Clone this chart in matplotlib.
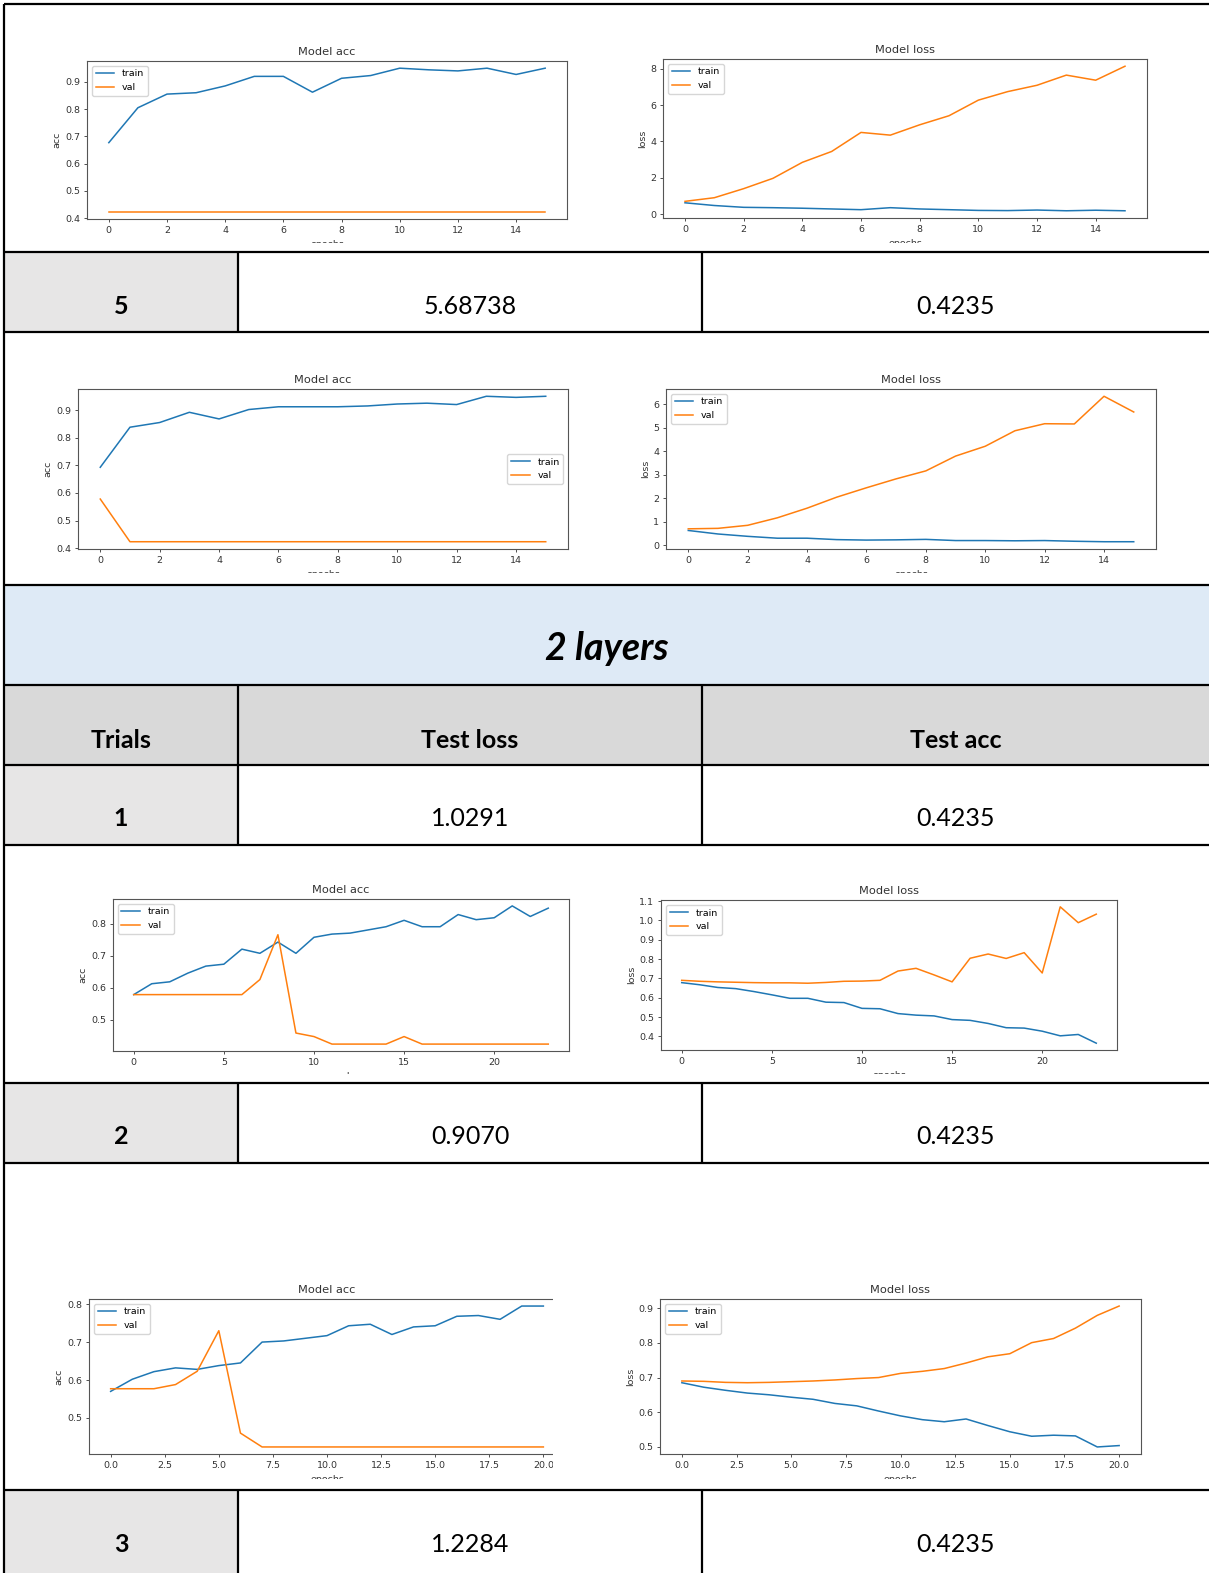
import matplotlib
matplotlib.use('Agg')
import matplotlib.pyplot as plt
from matplotlib.ticker import MultipleLocator
from matplotlib.patches import Rectangle

# 1 layer, trial 4 (top charts)
l1t4_acc_train = [0.677, 0.805, 0.855, 0.860, 0.885, 0.920, 0.920, 0.862, 0.913, 0.923, 0.950, 0.944, 0.940, 0.950, 0.927, 0.950]
l1t4_acc_val = [0.4235] * 16
l1t4_loss_train = [0.62, 0.47, 0.37, 0.35, 0.32, 0.28, 0.24, 0.35, 0.28, 0.24, 0.20, 0.19, 0.22, 0.18, 0.21, 0.18]
l1t4_loss_val = [0.70, 0.90, 1.40, 1.97, 2.85, 3.45, 4.50, 4.35, 4.92, 5.42, 6.28, 6.75, 7.10, 7.66, 7.38, 8.15]

# 1 layer, trial 5
l1t5_acc_train = [0.693, 0.838, 0.855, 0.892, 0.868, 0.902, 0.912, 0.912, 0.912, 0.915, 0.922, 0.925, 0.920, 0.950, 0.946, 0.950]
l1t5_acc_val = [0.578] + [0.4235] * 15
l1t5_loss_train = [0.63, 0.48, 0.38, 0.30, 0.30, 0.24, 0.22, 0.23, 0.25, 0.20, 0.20, 0.19, 0.20, 0.17, 0.15, 0.15]
l1t5_loss_val = [0.70, 0.72, 0.85, 1.17, 1.58, 2.05, 2.45, 2.83, 3.17, 3.80, 4.22, 4.88, 5.18, 5.17, 6.35, 5.68]

# 2 layers, trial 1
l2t1_acc_train = [0.578, 0.612, 0.618, 0.645, 0.667, 0.673, 0.720, 0.707, 0.742, 0.707, 0.757, 0.767,
                  0.770, 0.780, 0.790, 0.810, 0.790, 0.790, 0.828, 0.812, 0.818, 0.855, 0.822, 0.848]
l2t1_acc_val = [0.578, 0.578, 0.578, 0.578, 0.578, 0.578, 0.578, 0.625, 0.765, 0.458, 0.447, 0.4235,
                0.4235, 0.4235, 0.4235, 0.447, 0.4235, 0.4235, 0.4235, 0.4235, 0.4235, 0.4235, 0.4235, 0.4235]
l2t1_loss_train = [0.678, 0.667, 0.653, 0.647, 0.632, 0.615, 0.597, 0.597, 0.577, 0.575, 0.545, 0.543,
                   0.518, 0.510, 0.506, 0.487, 0.483, 0.467, 0.445, 0.443, 0.427, 0.403, 0.410, 0.365]
l2t1_loss_val = [0.690, 0.685, 0.682, 0.680, 0.678, 0.677, 0.677, 0.675, 0.679, 0.685, 0.686, 0.690,
                 0.738, 0.752, 0.718, 0.682, 0.804, 0.826, 0.803, 0.833, 0.728, 1.070, 0.988, 1.032]

# 2 layers, trial 2
l2t2_acc_train = [0.570, 0.602, 0.622, 0.632, 0.628, 0.638, 0.645, 0.700, 0.703, 0.710, 0.717,
                  0.743, 0.747, 0.720, 0.740, 0.743, 0.768, 0.770, 0.760, 0.795, 0.795]
l2t2_acc_val = [0.577, 0.577, 0.577, 0.588, 0.623, 0.730, 0.460] + [0.4235] * 14
l2t2_loss_train = [0.685, 0.672, 0.663, 0.655, 0.650, 0.643, 0.637, 0.625, 0.618, 0.603, 0.589,
                   0.578, 0.572, 0.580, 0.561, 0.543, 0.530, 0.533, 0.531, 0.499, 0.503]
l2t2_loss_val = [0.690, 0.689, 0.686, 0.685, 0.686, 0.688, 0.690, 0.693, 0.697, 0.700, 0.712,
                 0.718, 0.726, 0.742, 0.760, 0.769, 0.801, 0.813, 0.843, 0.880, 0.907]

# table text
trials = ['5', '1', '2', '3']
test_loss = ['5.68738', '1.0291', '0.9070', '1.2284']
test_acc = ['0.4235', '0.4235', '0.4235', '0.4235']
headers = ['Trials', 'Test loss', 'Test acc']
section_title = '2 layers'

W, H = 1209, 1573
fig = plt.figure(figsize=(W / 100, H / 100), dpi=100)
fig.patch.set_facecolor('white')


def frac(x0, y0, x1, y1):
    return [x0 / W, 1 - y1 / H, (x1 - x0) / W, (y1 - y0) / H]


def small_chart(box, train, val, title, ylabel, xstep, ystep, loc='upper left'):
    ax = fig.add_axes(frac(*box), zorder=2)
    ep = list(range(len(train)))
    ax.plot(ep, train, color='#1f77b4', lw=1.1, label='train')
    ax.plot(ep, val, color='#ff7f0e', lw=1.1, label='val')
    ax.set_title(title, fontsize=8.2, pad=4, color='#333333')
    ax.set_ylabel(ylabel, fontsize=6.8, labelpad=2.5, color='#333333')
    ax.set_xlabel('epochs', fontsize=6.8, labelpad=4, color='#333333')
    ax.xaxis.set_major_locator(MultipleLocator(xstep))
    ax.yaxis.set_major_locator(MultipleLocator(ystep))
    ax.tick_params(labelsize=6.8, length=2.4, width=0.6, pad=2.4, colors='#333333')
    for s in ax.spines.values():
        s.set_linewidth(0.8)
        s.set_color('#555555')
    ax.legend(loc=loc, fontsize=6.8)
    return ax


small_chart((87, 61, 567, 219), l1t4_acc_train, l1t4_acc_val, 'Model acc', 'acc', 2, 0.1)
small_chart((663, 59, 1147, 218), l1t4_loss_train, l1t4_loss_val, 'Model loss', 'loss', 2, 2)
small_chart((78, 389, 568, 549), l1t5_acc_train, l1t5_acc_val, 'Model acc', 'acc', 2, 0.1, loc='center right')
small_chart((666, 389, 1156, 549), l1t5_loss_train, l1t5_loss_val, 'Model loss', 'loss', 2, 1)
small_chart((113, 899, 569, 1051), l2t1_acc_train, l2t1_acc_val, 'Model acc', 'acc', 5, 0.1)
small_chart((661, 900, 1117, 1050), l2t1_loss_train, l2t1_loss_val, 'Model loss', 'loss', 5, 0.1)
small_chart((89, 1299, 565, 1454), l2t2_acc_train, l2t2_acc_val, 'Model acc', 'acc', 2.5, 0.1)
small_chart((660, 1299, 1141, 1454), l2t2_loss_train, l2t2_loss_val, 'Model loss', 'loss', 2.5, 0.1)

# overlay for the table
ov = fig.add_axes([0, 0, 1, 1], zorder=10)
ov.set_xlim(0, W)
ov.set_ylim(H, 0)
ov.axis('off')
ov.patch.set_alpha(0)

# crops of the pasted chart pictures
crops = [(5, 243, 1209, 252), (5, 573, 1209, 585), (5, 1074, 1209, 1083),
         (5, 1479, 1209, 1490), (553, 1270, 600, 1490)]
for x0, y0, x1, y1 in crops:
    ov.add_patch(Rectangle((x0, y0), x1 - x0, y1 - y0, facecolor='white', edgecolor='none', zorder=1))

X0, C1, C2, X1 = 4, 238, 702, 1209
lw = 1.6
tfont = 'Lato'

# section title row
ov.add_patch(Rectangle((X0, 585), X1 - X0, 100, facecolor='#DEEAF6', edgecolor='none', zorder=1))
ov.text((X0 + X1) / 2, 649, section_title, ha='center', va='center', fontsize=27,
        fontweight='bold', fontstyle='italic', family=tfont, zorder=4)

# header row
ov.add_patch(Rectangle((X0, 685), X1 - X0, 80, facecolor='#D9D9D9', edgecolor='none', zorder=1))
centers = [(X0 + C1) / 2, (C1 + C2) / 2, (C2 + X1) / 2]
for cx, h in zip(centers, headers):
    ov.text(cx, 740, h, ha='center', va='center', fontsize=18, fontweight='bold', family=tfont, zorder=4)

# data rows
row_tops = [252, 765, 1083, 1490]
row_bots = [332, 845, 1163, 1575]
for y0, y1, t, l, a in zip(row_tops, row_bots, trials, test_loss, test_acc):
    ov.add_patch(Rectangle((X0, y0), C1 - X0, y1 - y0, facecolor='#E7E6E6', edgecolor='none', zorder=1))
    ov.add_patch(Rectangle((C1, y0), X1 - C1, y1 - y0, facecolor='white', edgecolor='none', zorder=1))
    ty = y0 + 54
    ov.text(centers[0], ty, t, ha='center', va='center', fontsize=18, fontweight='bold', family=tfont, zorder=4)
    ov.text(centers[1], ty, l, ha='center', va='center', fontsize=18, family=tfont, zorder=4)
    ov.text(centers[2], ty, a, ha='center', va='center', fontsize=18, family=tfont, zorder=4)
    ov.vlines([C1, C2], y0, y1, colors='black', lw=lw, zorder=5)

ov.vlines([C1, C2], 685, 765, colors='black', lw=lw, zorder=5)

# horizontal rules
for y in [4, 252, 332, 585, 685, 765, 845, 1083, 1163, 1490]:
    ov.hlines(y, X0, X1 + 5, colors='black', lw=lw, zorder=5)
ov.vlines(X0, 4, H + 5, colors='black', lw=lw, zorder=5)

fig.savefig('out.png', dpi=100)
